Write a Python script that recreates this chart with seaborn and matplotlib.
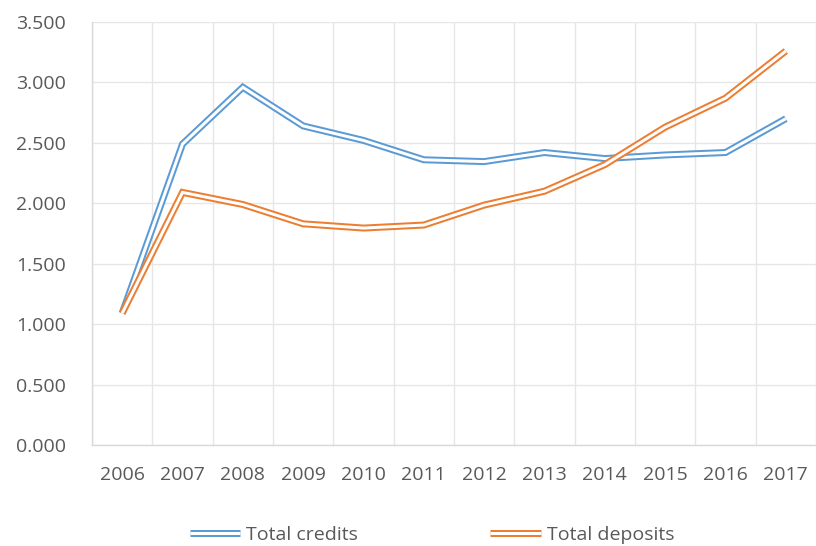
import matplotlib
matplotlib.use("Agg")
import matplotlib.pyplot as plt
import matplotlib.patheffects as pe
from matplotlib.lines import Line2D
from matplotlib.ticker import MultipleLocator, FuncFormatter
import seaborn as sns
import pandas as pd

years = ["2006", "2007", "2008", "2009", "2010", "2011",
         "2012", "2013", "2014", "2015", "2016", "2017"]
total_credits = [1.09, 2.49, 2.96, 2.64, 2.52, 2.36, 2.345, 2.42, 2.37, 2.40, 2.42, 2.70]
total_deposits = [1.09, 2.09, 1.99, 1.83, 1.795, 1.82, 1.985, 2.10, 2.32, 2.63, 2.87, 3.26]
series_names = ["Total credits", "Total deposits"]
colors = ["#5B9BD5", "#ED7D31"]

df = pd.DataFrame({
    "year": years * 2,
    "value": total_credits + total_deposits,
    "series": [series_names[0]] * len(years) + [series_names[1]] * len(years),
})

sns.set_theme(style="white")
plt.rcParams["font.family"] = ["Open Sans", "DejaVu Sans"]

fig = plt.figure(figsize=(8.16, 5.46), dpi=100)
ax = fig.add_axes([92 / 816, 1 - 445 / 546, 1 - 92 / 816, (445 - 22) / 546])

sns.lineplot(data=df, x="year", y="value", hue="series", palette=colors,
             sort=False, legend=False, ax=ax, linewidth=2.2)

def double(color):
    return [pe.Stroke(linewidth=5.04, foreground=color, capstyle="butt", joinstyle="miter"),
            pe.Stroke(linewidth=2.16, foreground="white", capstyle="butt", joinstyle="miter")]

for line, c in zip(ax.lines, colors):
    line.set_path_effects(double(c))
    line.set_solid_joinstyle("miter")
    line.set_solid_capstyle("butt")

ax.set_xlim(-0.5, len(years) - 0.5)
ax.set_ylim(0, 3.5)
ax.yaxis.set_major_locator(MultipleLocator(0.5))
ax.yaxis.set_major_formatter(FuncFormatter(lambda v, p: f"{v:.3f}"))
ax.set_xticks(range(len(years)))
ax.set_xticklabels(years)
ax.set_xticks([i - 0.5 for i in range(len(years) + 1)], minor=True)

ax.grid(False)
ax.yaxis.grid(True, which="major", color="#E6E6E6", linewidth=1.0)
ax.xaxis.grid(True, which="minor", color="#E6E6E6", linewidth=1.0)
ax.set_axisbelow(True)

for s in ["top", "right"]:
    ax.spines[s].set_visible(False)
for s in ["left", "bottom"]:
    ax.spines[s].set_color("#D9D9D9")
    ax.spines[s].set_linewidth(1.0)

ax.tick_params(axis="both", which="both", length=0, labelsize=14, colors="#595959")
ax.tick_params(axis="y", pad=19)
ax.tick_params(axis="x", pad=15)
ax.set_xlabel("")
ax.set_ylabel("")

handles = [Line2D([0], [0], color=c, linewidth=2.2, solid_capstyle="butt",
                  path_effects=double(c)) for c in colors]
leg = fig.legend(handles, series_names, loc="center",
                 bbox_to_anchor=(432 / 816, 1 - 535 / 546), ncol=2,
                 frameon=False, fontsize=14, handlelength=2.6,
                 handletextpad=0.3, columnspacing=6.8, labelcolor="#595959")

fig.savefig("out.png", dpi=100)
